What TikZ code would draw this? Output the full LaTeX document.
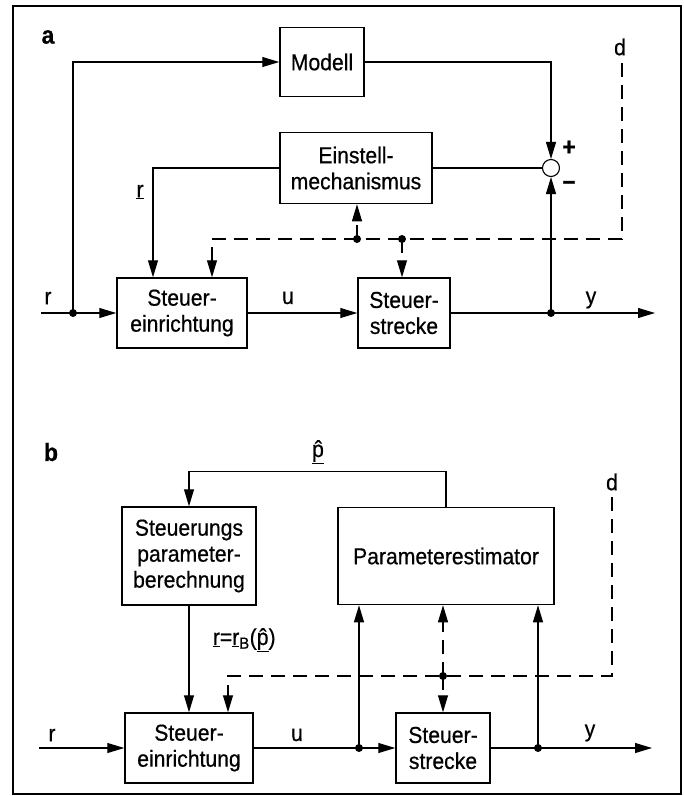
\documentclass[tikz,border=0pt]{standalone}
\usepackage{fontspec}
\setmainfont{Liberation Sans}[FakeStretch=0.92,FakeBold=0.6]
\usetikzlibrary{arrows.meta}
\begin{document}
\begin{tikzpicture}[x=1pt,y=-1pt,>={Triangle[length=17pt,width=10pt]},line width=1.1pt,
  blk/.style={draw,line width=1.5pt,align=center,inner sep=0pt,font=\fontsize{23}{26}\selectfont},
  lbl/.style={font=\fontsize{23}{26}\selectfont},
  hd/.style={font=\bfseries\fontsize{25}{25}\selectfont},
  dsh/.style={dash pattern=on 14pt off 8pt}]
\useasboundingbox (0,0) rectangle (684,796);
\draw[line width=1.5pt] (13,6) rectangle (681,794);
% --- a ---
\node[hd] (la) at (48,37) {a};
\node[blk,minimum width=84pt,minimum height=69pt] (mod) at (322,62) {Modell};
\node[blk,minimum width=152pt,minimum height=71pt] (ein) at (356,168) {Einstell-\\mechanismus};
\node[blk,minimum width=130pt,minimum height=70pt] (sea) at (182,313) {Steuer-\\einrichtung};
\node[blk,minimum width=92pt,minimum height=70pt] (ssa) at (404,313) {Steuer-\\strecke};
\node[draw,circle,minimum size=17pt,inner sep=0pt] (sum) at (551,168) {};
\coordinate (ra) at (41,313);
\coordinate (bra) at (73,313);
\coordinate (ya) at (551,313);
\coordinate (ea) at (655,313);
\coordinate (da) at (622,63);
\coordinate (dka) at (212,239);
\coordinate (d1) at (357,239);
\coordinate (d2) at (402,239);
\draw[->] (ra) -- (sea);
\draw[->] (bra) |- (mod);
\draw[->] (mod) -| (sum);
\draw (ein) -- (sum);
\draw[->] (ein) -| ([xshift=-29pt]sea.north);
\draw[->] (ya) -- (sum);
\draw[->] (sea) -- (ssa);
\draw[->] (ssa) -- (ea);
\draw[dsh,->] (da) |- (dka) -- (dka |- sea.north);
\draw[dsh,->] (d1) -- (d1 |- ein.south);
\draw[dsh,->] (d2) -- (d2 |- ssa.north);
\foreach \p in {bra,ya,d1,d2} {\fill (\p) circle (4pt);}
\node[lbl] (lra) at (48,298) {r};
\node[lbl] (lua) at (288,298) {u};
\node[lbl] (lya) at (591,300) {y};
\node[lbl] (lrv) at (140,192) {\underline{r}};
\node[lbl] (lda) at (620,47) {d};
\node[hd] (lp) at (569,148) {+};
\node[hd] (lm) at (569,185) {--};
% --- b ---
\node[hd] (lb) at (51,452) {b};
\node[blk,minimum width=134pt,minimum height=98pt] (spb) at (189,556) {Steuerungs\\parameter-\\berechnung};
\node[blk,minimum width=216pt,minimum height=97pt] (pe) at (446,556) {Parameterestimator};
\node[blk,minimum width=128pt,minimum height=70pt] (seb) at (189,748) {Steuer-\\einrichtung};
\node[blk,minimum width=94pt,minimum height=70pt] (ssb) at (443,748) {Steuer-\\strecke};
\coordinate (rb) at (39,748);
\coordinate (u1) at (359,748);
\coordinate (y1) at (538,748);
\coordinate (eb) at (652,748);
\coordinate (db) at (612,497);
\coordinate (dkb) at (228,676);
\coordinate (dd) at (443,676);
\draw[->] (rb) -- (seb);
\draw[->] (seb) -- (ssb);
\draw[->] (ssb) -- (eb);
\draw[->] (u1) -- (u1 |- pe.south);
\draw[->] (y1) -- (y1 |- pe.south);
\draw[->] (pe.north) -- ++(0,-35) -| (spb.north);
\draw[->] (spb) -- (seb);
\draw[dsh,->] (db) |- (dkb) -- (dkb |- seb.north);
\draw[dsh,->] (dd) -- (dd |- pe.south);
\draw[dsh,->] (dd) -- (ssb);
\foreach \p in {u1,y1,dd} {\fill (\p) circle (4pt);}
\node[lbl] (lrb) at (52,735) {r};
\node[lbl] (lub) at (297,735) {u};
\node[lbl] (lyb) at (590,733) {y};
\node[lbl] (ldb) at (612,482) {d};
\node[lbl] (lph) at (318,452) {\underline{\^{p}}};
\node[lbl,anchor=west] (lrB) at (209,640) {\underline{r}=\underline{r}\textsubscript{B}(\underline{\^{p}})};
\end{tikzpicture}
\end{document}
